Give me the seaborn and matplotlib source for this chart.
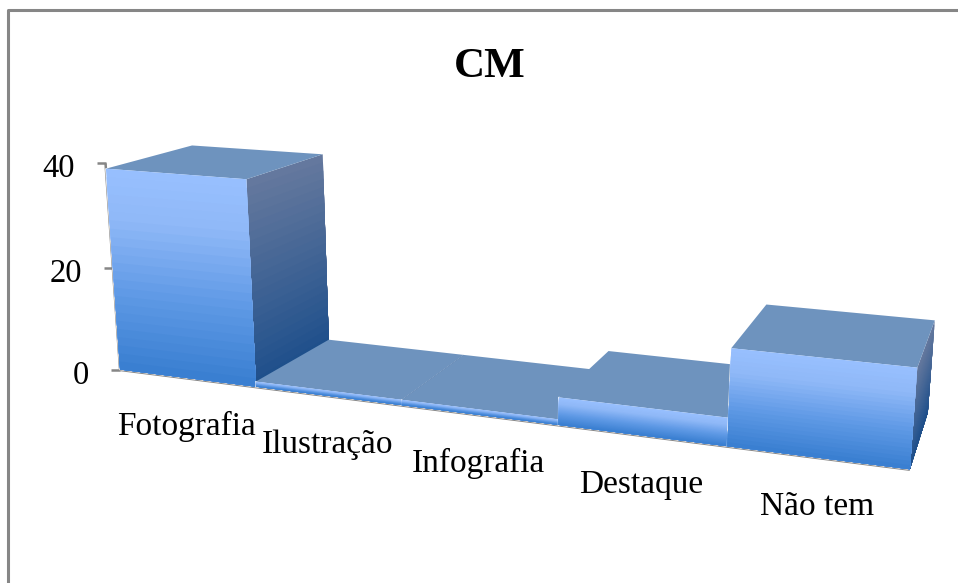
import numpy as np
import matplotlib
matplotlib.use("Agg")
import matplotlib.pyplot as plt
import matplotlib.transforms as mtransforms
from matplotlib.colors import LinearSegmentedColormap
from matplotlib.patches import Polygon
import seaborn as sns

categories = ["Fotografia", "Ilustração", "Infografia", "Destaque", "Não tem"]
values = [39, 1, 1, 5, 17]
y_ticks = [0, 20, 40]
title = "CM"

WIDTH, HEIGHT = 958, 583
FONT = "Liberation Serif"
GRAY = "#868686"

# (x, value, depth) -> pixel pairs used to work out the perspective of the chart
anchors = [
    (-0.5, 0, 0, 120, 372), (0.5, 0, 0, 256, 386), (-0.5, 39, 0, 107, 168),
    (0.5, 39, 0, 246, 178), (-0.5, 39, 1, 192, 145), (0.5, 39, 1, 323, 153),
    (0.5, 1, 1, 329, 341), (0.5, 1, 0, 256, 382), (2.5, 0, 0, 557, 424),
    (2.5, 5, 0, 558, 397), (2.5, 5, 1, 608, 350), (3.5, 5, 0, 728, 416),
    (3.5, 0, 0, 728, 445), (3.5, 17, 0, 731, 352), (4.5, 17, 0, 917, 370),
    (4.5, 0, 0, 912, 467), (3.5, 17, 1, 766, 307), (4.5, 17, 1, 934, 322),
    (4.5, 0, 1, 929, 410),
]


def fitCamera(points):
    rows, target = [], []
    for x, v, d, px, py in points:
        rows.append([x, v, d, 1, 0, 0, 0, 0, -px * x, -px * v, -px * d])
        target.append(px)
        rows.append([0, 0, 0, 0, x, v, d, 1, -py * x, -py * v, -py * d])
        target.append(py)
    solved = np.linalg.lstsq(np.array(rows, float), np.array(target, float), rcond=None)[0]
    return np.append(solved, 1).reshape(3, 4)


camera = fitCamera(anchors)


def project(x, v, d=0):
    # display coordinates, y measured from the bottom of the figure
    x, v, d = np.broadcast_arrays(np.asarray(x, float), np.asarray(v, float), np.asarray(d, float))
    stacked = np.stack([x, v, d, np.ones_like(x)], axis=-1)
    out = stacked @ camera.T
    return np.stack([out[..., 0] / out[..., 2], HEIGHT - out[..., 1] / out[..., 2]], axis=-1)


class FrontPlane(mtransforms.Transform):
    input_dims = 2
    output_dims = 2

    def transform_non_affine(self, values):
        values = np.asarray(values)
        return project(values[:, 0], values[:, 1])


sns.set_theme(style="white")
plt.rcParams["font.family"] = [FONT, "DejaVu Serif"]

frontColors = LinearSegmentedColormap.from_list(
    "front", [(0, "#98C0FF"), (0.25, "#8FB8F7"), (0.6, "#609AE6"), (1, "#387ED0")])
sideColors = LinearSegmentedColormap.from_list("side", ["#65799E", "#1E4F8B"])
TOP_COLOR = "#6E93BE"

fig, ax = plt.subplots(figsize=(WIDTH / 100, HEIGHT / 100), dpi=100)
fig.subplots_adjust(0, 0, 1, 1)
pixels = mtransforms.IdentityTransform()

sns.barplot(x=categories, y=values, width=1, color="#98C0FF", saturation=1, ax=ax, zorder=1)
ax.set_axis_off()


def addFace(corners, color, zorder):
    ax.add_patch(Polygon(corners, closed=True, facecolor=color, edgecolor="none", linewidth=0,
                         transform=pixels, clip_on=False, zorder=zorder))


def addLine(xs, ys, width, zorder=0.5):
    ax.plot(xs, ys, color=GRAY, linewidth=width, transform=pixels, clip_on=False,
            zorder=zorder, solid_capstyle="butt")


# chart frame, only top and left are inside the picture
addLine([8, 8, WIDTH], [0, HEIGHT - 10, HEIGHT - 10], 2.2)

# value axis and floor
axisEnds = project([-0.5, -0.5], [0, 40])
addLine(axisEnds[:, 0], axisEnds[:, 1], 1.8)
floorEnds = project([-0.5, 4.5], [0, 0])
addLine(floorEnds[:, 0], floorEnds[:, 1], 2.4)
for tick in y_ticks:
    px, py = project(-0.5, tick)
    addLine([px - 9, px], [py, py], 1.8)
    ax.text(px - 31, py - 14, str(tick), transform=pixels, ha="right", va="baseline",
            fontsize=23.5, color="black", clip_on=False)

STRIPS = 24
order = 2
for bar, height in zip(ax.patches, values):
    left = bar.get_x()
    right = left + bar.get_width()
    bar.set_transform(FrontPlane())
    bar.set_clip_on(False)
    bar.set_zorder(order)
    levels = np.linspace(height, 0, STRIPS + 1)
    # every strip runs down to the floor and the next one paints over it, so no seams show
    for j in range(STRIPS):
        top = levels[j]
        shade = (j + 0.5) / STRIPS
        side = project([right, right, right, right], [top, top, 0, 0], [0, 1, 1, 0])
        addFace(side, sideColors(shade), order + 0.1 + j * 0.001)
        front = project([left, right, right, left], [top, top, 0, 0])
        addFace(front, frontColors(shade), order + 0.3 + j * 0.001)
    lid = project([left, right, right, left], [height] * 4, [0, 0, 1, 1])
    addFace(lid, TOP_COLOR, order + 0.2)
    order += 1

# labels hang below the front edge of the floor
for i, label in enumerate(categories):
    px, py = project(i, 0)
    ax.text(px, py - 57.5, label, transform=pixels, ha="center", va="baseline",
            fontsize=24, color="black", clip_on=False)

ax.text(490, HEIGHT - 77, title, transform=pixels, ha="center", va="baseline",
        fontsize=31, fontweight="bold", color="black", clip_on=False)

fig.savefig("out.png", dpi=100, facecolor="white")
plt.close("all")
